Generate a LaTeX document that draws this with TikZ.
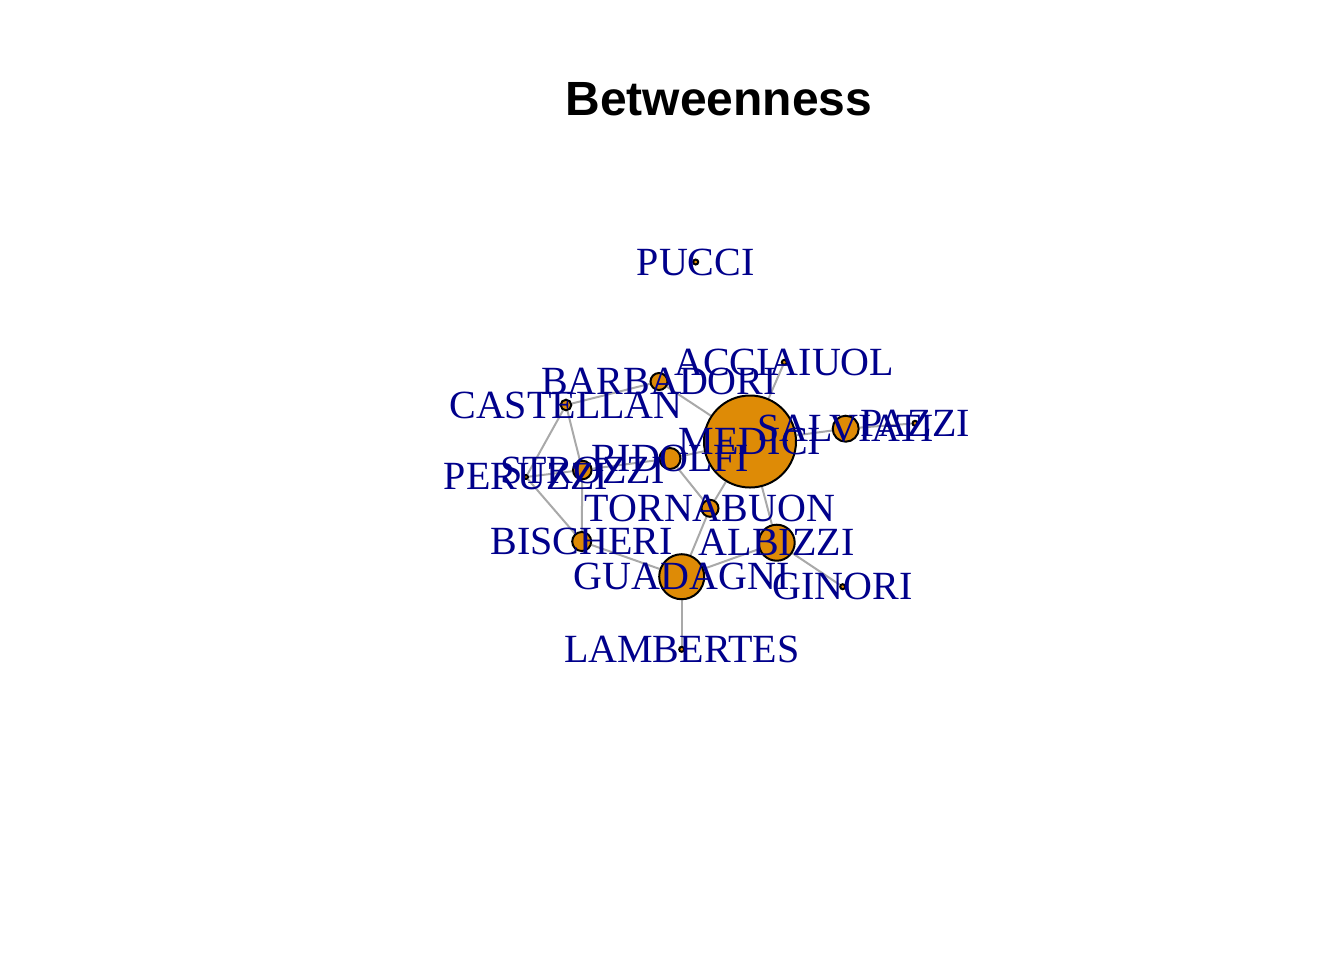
\documentclass[tikz,border=0pt]{standalone}
\usepackage{fontspec}
\setmainfont{Liberation Serif}
\newfontfamily\titlefont{Liberation Sans}
\usepackage{xcolor}
\usetikzlibrary{backgrounds}

\definecolor{famfill}{RGB}{222,139,6}
\definecolor{lblblue}{RGB}{0,0,139}
\definecolor{tiegray}{RGB}{169,169,169}

\begin{document}
\begin{tikzpicture}[
    x=0.375pt, y=-0.375pt,
    fam/.style={circle, draw=black, fill=famfill, line width=0.75pt, inner sep=0pt},
    lbl/.style={text=lblblue, inner sep=0pt, font=\fontsize{15}{15}\selectfont},
    tie/.style={draw=tiegray, line width=0.75pt}
]
\useasboundingbox (0,0) rectangle (1344,960);
\node[anchor=base, inner sep=0pt, font=\titlefont\bfseries\fontsize{18}{18}\selectfont] (title) at (719,115) {Betweenness};
% families, sized by betweenness (radius in px)
\foreach \n/\x/\y/\r in {ACCIAIUOL/784.3/362.3/2.5, ALBIZZI/776.7/542.7/18,
    BARBADORI/659/381.5/8.5, BISCHERI/581.7/541.5/9.5, CASTELLAN/566/405/5.3,
    GINORI/842.7/586.7/2.5, GUADAGNI/681.7/576.7/22.5, LAMBERTES/681.7/649.3/2.5,
    MEDICI/750/441.5/46, PAZZI/915/423.3/2.5, PERUZZI/526/477/2,
    PUCCI/695.7/262/2.5, RIDOLFI/670/458.5/10.5, SALVIATI/845.7/428.7/13,
    STROZZI/582.3/470/9.3, TORNABUON/710/508.3/8.5}
    \node[fam, minimum size=\r*0.75pt] (\n) at (\x,\y) {};
% marriage ties
\begin{scope}[on background layer]
\foreach \a/\b in {ACCIAIUOL/MEDICI, ALBIZZI/GINORI, ALBIZZI/GUADAGNI, ALBIZZI/MEDICI,
    BARBADORI/CASTELLAN, BARBADORI/MEDICI, BISCHERI/GUADAGNI, BISCHERI/PERUZZI,
    BISCHERI/STROZZI, CASTELLAN/PERUZZI, CASTELLAN/STROZZI, GUADAGNI/LAMBERTES,
    GUADAGNI/TORNABUON, MEDICI/RIDOLFI, MEDICI/SALVIATI, MEDICI/TORNABUON,
    PAZZI/SALVIATI, PERUZZI/STROZZI, RIDOLFI/STROZZI, RIDOLFI/TORNABUON}
    \draw[tie] (\a) -- (\b);
\end{scope}
% labels on top
\foreach \n in {ACCIAIUOL, ALBIZZI, BARBADORI, BISCHERI, CASTELLAN, GINORI,
    GUADAGNI, LAMBERTES, MEDICI, PAZZI, PERUZZI, PUCCI, RIDOLFI, SALVIATI,
    STROZZI, TORNABUON}
    \node[lbl] (\n-lbl) at (\n.center) {\n};
\end{tikzpicture}
\end{document}
